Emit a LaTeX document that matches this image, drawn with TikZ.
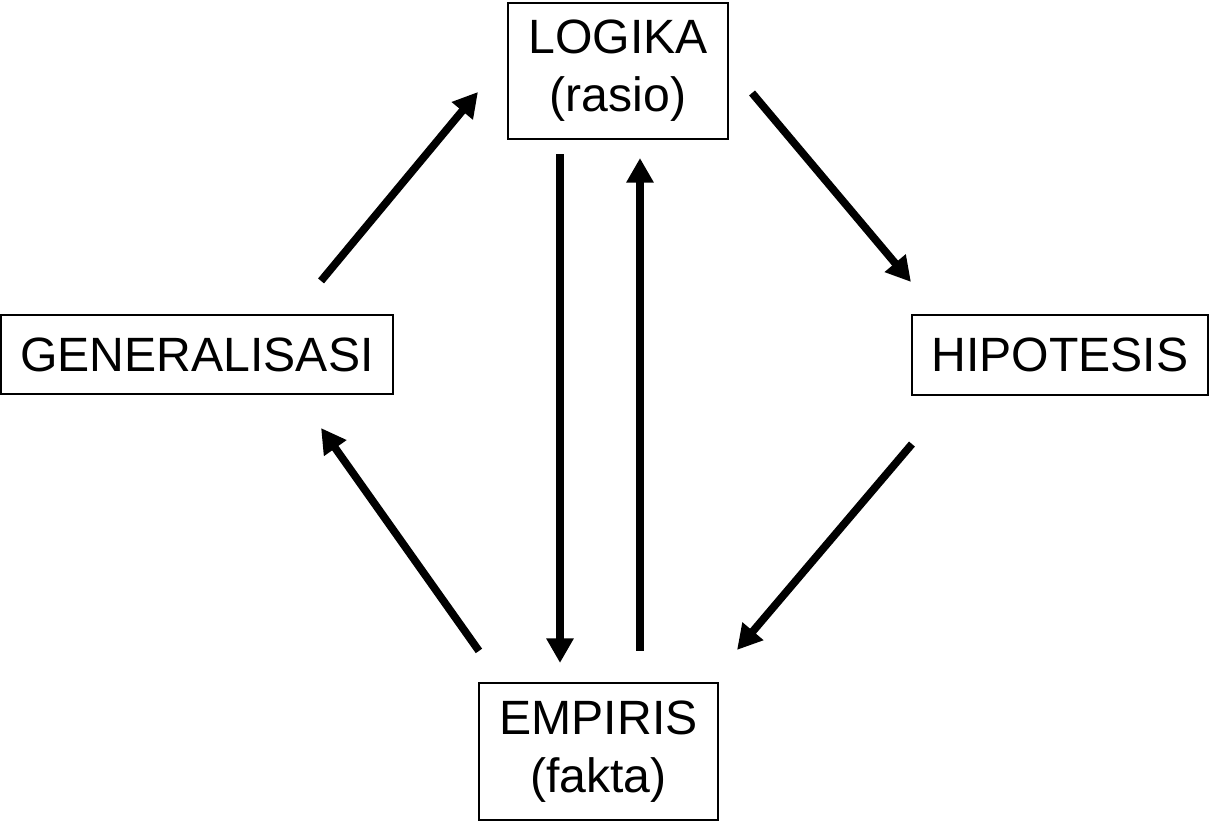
\documentclass[tikz,border=0pt]{standalone}
\usepackage{fontspec}
\setmainfont{Liberation Sans}
\usetikzlibrary{arrows.meta}

\tikzset{
	boks/.style={draw, line width=.6pt, inner sep=0pt, align=center,
		font=\fontsize{13.7pt}{16.4pt}\selectfont},
	panah/.style={line width=2.2pt, -{Triangle[length=7pt,width=7.4pt]}}
}

\begin{document}
\begin{tikzpicture}
	\useasboundingbox (0,0) rectangle (12.09,-8.21);

	\node[boks, minimum width=2.2cm, minimum height=1.36cm]
		(logika) at (6.18,-.71) {LOGIKA\\(rasio)};
	\node[boks, minimum width=2.39cm, minimum height=1.37cm]
		(empiris) at (5.985,-7.515) {EMPIRIS\\(fakta)};
	\node[boks, minimum width=3.92cm, minimum height=.79cm]
		(gen) at (1.97,-3.545) {GENERALISASI};
	\node[boks, minimum width=2.96cm, minimum height=.8cm]
		(hip) at (10.6,-3.55) {HIPOTESIS};

	\draw[panah]
		([xshift=-.73cm,yshift=.33cm]gen.north east) --
		([xshift=-.29cm,yshift=-.21cm]logika.west);
	\draw[panah]
		([xshift=.23cm,yshift=-.22cm]logika.east) --
		([yshift=.32cm]hip.north west);
	\draw[panah]
		([xshift=.01cm,yshift=-.48cm]hip.south west) --
		([xshift=.18cm,yshift=.32cm]empiris.north east);
	\draw[panah]
		([xshift=.01cm,yshift=.31cm]empiris.north west) --
		([xshift=-.73cm,yshift=-.33cm]gen.south east);
	\draw[panah]
		([xshift=-.58cm,yshift=-.14cm]logika.south) --
		([xshift=-.385cm,yshift=.19cm]empiris.north);
	\draw[panah]
		([xshift=.415cm,yshift=.31cm]empiris.north) --
		([xshift=.22cm,yshift=-.18cm]logika.south);

\end{tikzpicture}
\end{document}
